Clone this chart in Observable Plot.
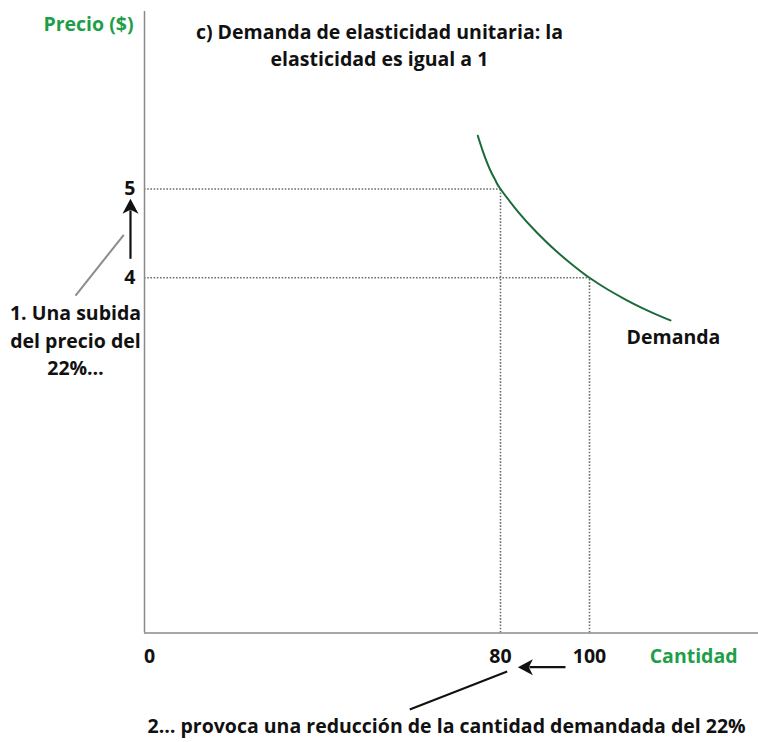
<!DOCTYPE html>
<html><head><meta charset="utf-8">
<script src="https://cdn.jsdelivr.net/npm/d3@7"></script>
<script src="https://cdn.jsdelivr.net/npm/@observablehq/plot@0.6"></script>
<style>body{margin:0;background:#fff}</style>
</head><body><div id="chart"></div>
<script>
// ---- data ----
const quantity = [74.9, 76, 77, 78, 79, 80, 84, 88, 92, 96, 100, 104, 108, 112, 116, 118.2];
const price = [5.60, 5.43, 5.295, 5.18, 5.083, 5.0, 4.74, 4.519, 4.324, 4.153, 4.0, 3.871, 3.758, 3.656, 3.565, 3.52];
const refQuantity = [80, 100];
const refPrice = [5, 4];
const xTicks = [0, 80, 100];
const yTicks = [4, 5];
const title = "c) Demanda de elasticidad unitaria: la\nelasticidad es igual a 1";
const xLabel = "Cantidad";
const yLabel = "Precio ($)";
const curveLabel = "Demanda";
const note1 = "1. Una subida\ndel precio del\n22%…";
const note2 = "2… provoca una reducción de la cantidad demandada del 22%";

const demand = quantity.map((q, i) => ({q, p: price[i]}));
const refs = refQuantity.map((q, i) => ({q, p: refPrice[i]}));

const green = "#1f9e4a", curveGreen = "#1b6b3a";
const fs = 19.5;
const txt = {fontSize: fs, fontWeight: "bold", fill: "#111"};
const dotted = {stroke: "#6e6e6e", strokeDasharray: "1.6,1.6", strokeWidth: 1.6};

// barbed arrowhead, tip at the origin, pointing up
const arrowHead = {
  draw(ctx) {
    ctx.moveTo(0, 0);
    ctx.lineTo(8, 15);
    ctx.lineTo(0, 11);
    ctx.lineTo(-8, 15);
    ctx.closePath();
  }
};

const chart = Plot.plot({
  width: 758, height: 742,
  marginLeft: 144, marginRight: 0, marginTop: 10.9, marginBottom: 109.5,
  x: {domain: [0, 614 / 4.45], axis: null},
  y: {domain: [0, 7], axis: null},
  style: {fontFamily: "'Open Sans', sans-serif", background: "#fff"},
  marks: [
    Plot.ruleY(refs, {y: "p", x1: 0, x2: "q", ...dotted}),
    Plot.ruleX(refs, {x: "q", y1: 0, y2: "p", ...dotted}),
    Plot.ruleX([0], {stroke: "#8a8a8a", strokeWidth: 1.5}),
    Plot.ruleY([0], {stroke: "#8a8a8a", strokeWidth: 1.5}),
    Plot.line(demand, {x: "q", y: "p", curve: "natural", stroke: curveGreen, strokeWidth: 2}),
    Plot.text(yTicks, {x: 0, y: d => d, dx: -9, text: d => String(d), textAnchor: "end", ...txt}),
    Plot.text(xTicks, {filter: d => d !== 0, x: d => d, y: 0, dy: 24, text: d => String(d), ...txt}),
    Plot.text(xTicks, {filter: d => d === 0, x: d => d, y: 0, dx: 5, dy: 24, text: d => String(d), ...txt}),
    Plot.text([xLabel], {x: 123.4, y: 0, dy: 24, text: d => d, ...txt, fill: green}),
    Plot.text([yLabel], {x: 0, y: 7, dx: -11, dy: 13, text: d => d, textAnchor: "end", ...txt, fill: green}),
    Plot.text([title], {x: 52.8, y: 7, dy: 32.6, text: d => d, lineHeight: 1.4, ...txt}),
    Plot.text([note1], {x: 0, y: 4, dx: -69, dy: 61, text: d => d, lineHeight: 1.42, ...txt}),
    Plot.text([curveLabel], {x: quantity[quantity.length - 1], y: price[price.length - 1], dx: 3, dy: 17, text: d => d, ...txt}),
    Plot.text([note2], {x: 67.9, y: 0, dy: 94, text: d => d, ...txt}),
    // connector lines
    Plot.link([0], {x1: -15.5, y1: 3.80, x2: -4.65, y2: 4.484, stroke: "#8c8c8c", strokeWidth: 2}),
    Plot.link([0], {x1: 59.6, y1: -0.861, x2: 81.5, y2: -0.434, stroke: "#111", strokeWidth: 2}),
    // price arrow
    Plot.link([0], {x1: -3.15, x2: -3.15, y1: 4.214, y2: 4.76, stroke: "#111", strokeWidth: 2.2}),
    Plot.dot([0], {x: -3.15, y: 4.89, symbol: arrowHead, fill: "#111", stroke: null}),
    // quantity arrow
    Plot.link([0], {x1: 94.6, x2: 86.5, y1: -0.385, y2: -0.385, stroke: "#111", strokeWidth: 2.2}),
    Plot.dot([0], {x: 83.9, y: -0.385, symbol: arrowHead, rotate: -90, fill: "#111", stroke: null})
  ]
});
document.getElementById("chart").appendChild(chart);
</script>
</body></html>
